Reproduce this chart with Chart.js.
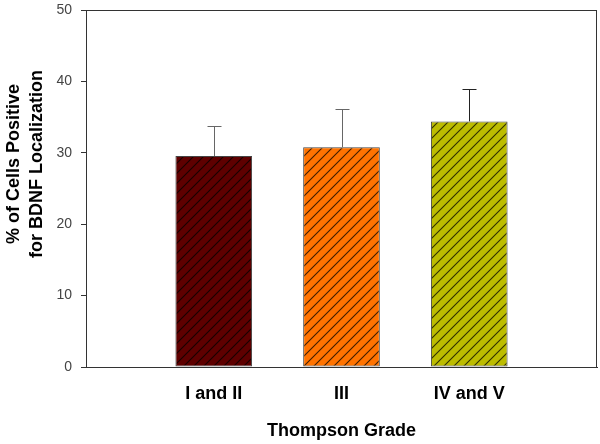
<!DOCTYPE html>
<html>
<head>
<meta charset="utf-8">
<script src="https://cdn.jsdelivr.net/npm/chart.js@4"></script>
<style>
  html, body { margin: 0; padding: 0; background: #fff; }
  #wrap { width: 600px; height: 444px; }
</style>
</head>
<body>
<div id="wrap"><canvas id="chart"></canvas></div>
<script>
// data
const categories = ['I and II', 'III', 'IV and V'];
const meanValues = [29.55, 30.77, 34.4];
const errorUp = [4.2, 5.4, 4.5];
const yTicks = [0, 10, 20, 30, 40, 50];

const fillColors = ['#5e0000', '#ff7300', '#bcbc00'];
const errColors = ['#666666', '#666666', '#222222'];

// diagonal hatch like the original plot
function hatch(color) {
    const c = document.createElement('canvas');
    c.width = 10; c.height = 10;
    const g = c.getContext('2d');
    g.fillStyle = color;
    g.fillRect(0, 0, 10, 10);
    g.strokeStyle = 'rgba(0,0,0,0.75)';
    g.lineWidth = 1.1;
    g.beginPath();
    g.moveTo(0, 10); g.lineTo(10, 0);
    g.moveTo(-1, 1); g.lineTo(1, -1);
    g.moveTo(9, 11); g.lineTo(11, 9);
    g.stroke();
    return g.createPattern(c, 'repeat');
}

// empty slot at each end so bars sit at 1/4, 2/4, 3/4 of the width
const labels = [''].concat(categories, ['']);
const values = [null].concat(meanValues, [null]);
const errs = [0].concat(errorUp, [0]);

const font = 'Liberation Sans, Arial, sans-serif';

const errorBars = {
    id: 'errorBars',
    afterDatasetsDraw(chart) {
        const ctx = chart.ctx;
        const y = chart.scales.y;
        const meta = chart.getDatasetMeta(0);
        ctx.save();
        ctx.lineWidth = 1;
        meta.data.forEach((bar, i) => {
            if (values[i] == null) return;
            const x = Math.round(bar.x) + 0.5;
            const top = Math.round(y.getPixelForValue(values[i] + errs[i])) + 0.5;
            ctx.strokeStyle = errColors[i - 1];
            ctx.beginPath();
            ctx.moveTo(x, bar.y);
            ctx.lineTo(x, top);
            ctx.moveTo(x - 7, top);
            ctx.lineTo(x + 7, top);
            ctx.stroke();
        });
        ctx.restore();
    }
};

const frame = {
    id: 'frame',
    afterDraw(chart) {
        const { left, top, right, bottom } = chart.chartArea;
        const ctx = chart.ctx;
        ctx.save();
        ctx.strokeStyle = '#333';
        ctx.lineWidth = 1;
        ctx.strokeRect(Math.round(left) + 0.5, Math.round(top) + 0.5,
            Math.round(right - left) - 1, Math.round(bottom - top));
        // y title, two lines, rotated
        ctx.fillStyle = '#000';
        ctx.font = 'bold 18px ' + font;
        ctx.textAlign = 'center';
        ctx.textBaseline = 'alphabetic';
        ctx.translate(0, 164);
        ctx.rotate(-Math.PI / 2);
        ctx.fillText('% of Cells Positive', 0, 18.5);
        ctx.fillText('for BDNF Localization', 0, 42);
        ctx.restore();
    }
};

new Chart(document.getElementById('chart'), {
    type: 'bar',
    data: {
        labels: labels,
        datasets: [{
            data: values,
            backgroundColor: ['#fff'].concat(fillColors.map(hatch), ['#fff']),
            borderColor: '#444',
            borderWidth: 1,
            borderSkipped: false,
            categoryPercentage: 1,
            barPercentage: 0.6
        }]
    },
    options: {
        responsive: true,
        maintainAspectRatio: false,
        animation: false,
        layout: { padding: { top: 10, right: 3, left: 0, bottom: 0 } },
        plugins: {
            legend: { display: false },
            tooltip: { enabled: false }
        },
        scales: {
            x: {
                offset: false,
                afterFit: (s) => { s.height = 77; s.paddingLeft = 0; s.paddingRight = 0; },
                grid: { display: false, drawTicks: false },
                border: { display: true, color: '#333' },
                ticks: {
                    padding: 16,
                    color: '#000',
                    font: { family: font, size: 18, weight: 'bold' },
                    maxRotation: 0,
                    autoSkip: false
                },
                title: {
                    display: true,
                    text: 'Thompson Grade',
                    color: '#000',
                    font: { family: font, size: 18, weight: 'bold' },
                    padding: { top: 0, bottom: 2 }
                }
            },
            y: {
                min: 0,
                max: 50,
                afterFit: (s) => { s.width = 86; s.paddingTop = 0; s.paddingBottom = 0; },
                afterBuildTicks: (s) => { s.ticks = yTicks.map(v => ({ value: v })); },
                grid: { drawOnChartArea: false, drawTicks: true, tickLength: 5, color: '#333' },
                border: { display: true, color: '#333' },
                ticks: {
                    padding: 9,
                    color: '#444',
                    font: { family: font, size: 14 }
                }
            }
        }
    },
    plugins: [errorBars, frame]
});
</script>
</body>
</html>
